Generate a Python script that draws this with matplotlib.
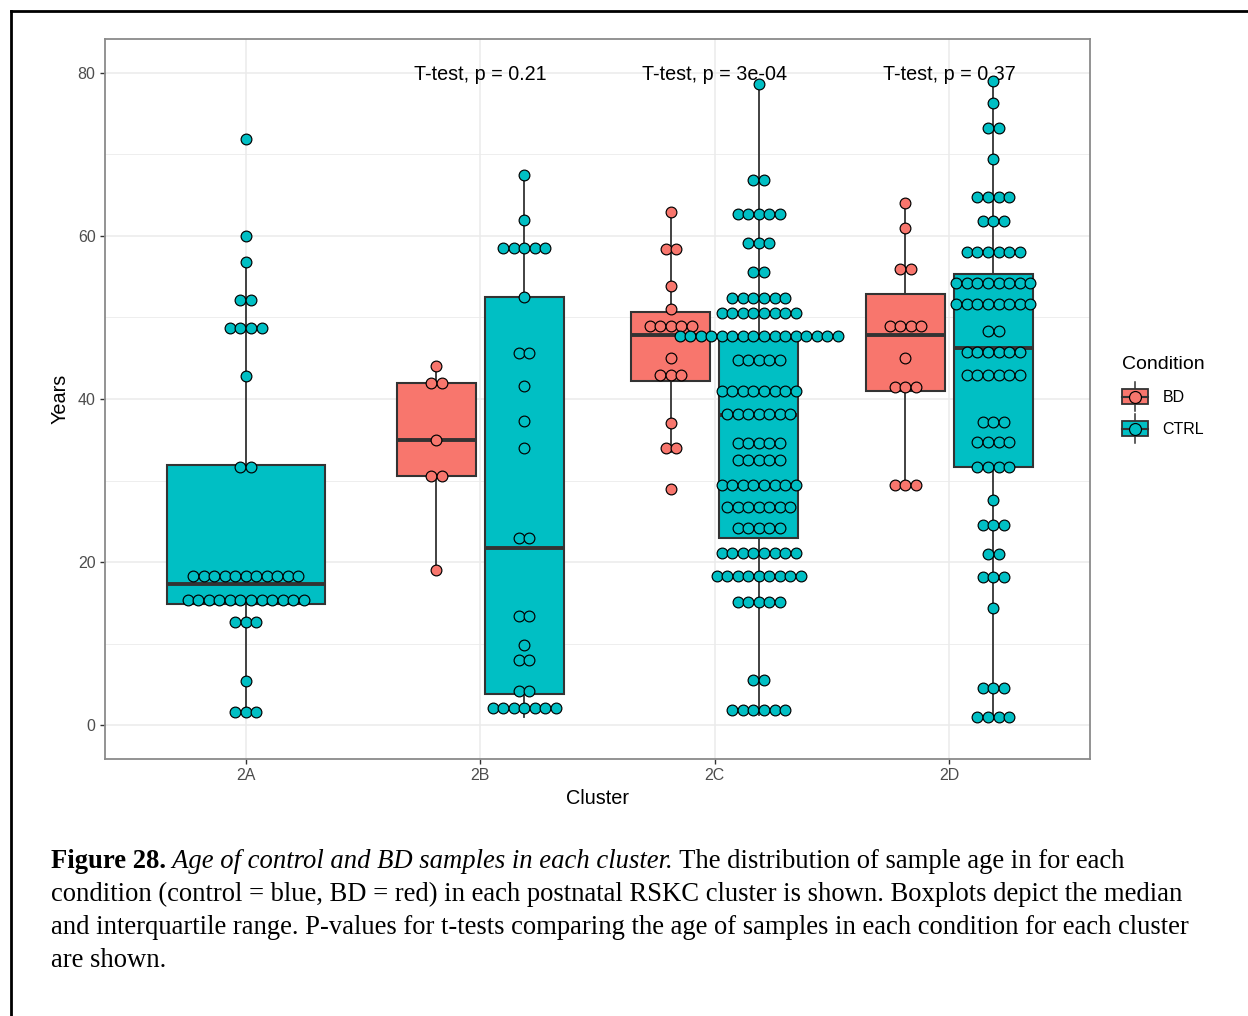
import matplotlib
matplotlib.use('Agg')
import matplotlib.pyplot as plt
from matplotlib.patches import Rectangle, Patch
from matplotlib.lines import Line2D
from matplotlib.legend_handler import HandlerBase

plt.rcParams['font.family'] = ['Liberation Sans', 'DejaVu Sans']

clusters = ['2A', '2B', '2C', '2D']
bd_color = '#F8766D'
ctrl_color = '#00BFC4'

# dot-plot bins: age (years) and how many samples fall in each bin
a_ctrl_age = [1.6, 5.4, 12.6, 15.3, 18.3, 31.6, 42.8, 48.7, 52.2, 56.8, 60.0, 71.9]
a_ctrl_n = [3, 1, 3, 12, 11, 2, 1, 4, 2, 1, 1, 1]

b_bd_age = [19.0, 30.5, 35.0, 42.0, 44.0]
b_bd_n = [1, 2, 1, 2, 1]
b_ctrl_age = [2.1, 4.2, 8.0, 9.8, 13.4, 23.0, 34.0, 37.3, 41.6, 45.7, 52.5, 58.5, 62.0, 67.5]
b_ctrl_n = [7, 2, 2, 1, 2, 2, 1, 1, 1, 2, 1, 5, 1, 1]

c_bd_age = [29.0, 34.0, 37.0, 43.0, 45.0, 49.0, 51.0, 53.9, 58.4, 63.0]
c_bd_n = [1, 2, 1, 3, 1, 5, 1, 1, 2, 1]
c_ctrl_age = [1.9, 5.5, 15.1, 18.3, 21.1, 24.2, 26.8, 29.5, 32.5, 34.6, 38.2, 41.0,
              44.8, 47.7, 50.5, 52.4, 55.6, 59.2, 62.7, 66.9, 78.7]
c_ctrl_n = [6, 2, 5, 9, 8, 5, 7, 8, 5, 5, 7, 8, 5, 16, 8, 6, 2, 3, 5, 2, 1]

d_bd_age = [29.5, 41.5, 45.0, 49.0, 56.0, 61.0, 64.0]
d_bd_n = [3, 3, 1, 4, 2, 1, 1]
d_ctrl_age = [1.0, 4.5, 14.3, 18.2, 21.0, 24.6, 27.6, 31.6, 34.7, 37.2, 42.9, 45.8,
              48.3, 51.6, 54.2, 58.0, 61.9, 64.8, 69.4, 73.25, 76.3, 79.0]
d_ctrl_n = [4, 3, 1, 3, 2, 3, 1, 4, 4, 3, 6, 6, 2, 8, 8, 6, 3, 4, 1, 2, 1, 1]

# box statistics (per cluster)
ctrl_q1 = [14.8, 3.8, 22.9, 31.7]
ctrl_med = [17.3, 21.7, 38.0, 46.2]
ctrl_q3 = [31.9, 52.5, 47.4, 55.3]
ctrl_lo = [1.6, 1.0, 1.2, 1.0]
ctrl_hi = [56.8, 67.5, 78.7, 79.0]

bd_clusters = ['2B', '2C', '2D']
bd_q1 = [30.5, 42.2, 41.0]
bd_med = [35.0, 47.9, 47.9]
bd_q3 = [42.0, 50.7, 52.9]
bd_lo = [19.0, 33.5, 29.5]
bd_hi = [44.0, 63.0, 64.0]

p_labels = ['T-test, p = 0.21', 'T-test, p = 3e-04', 'T-test, p = 0.37']
p_clusters = ['2B', '2C', '2D']

fig = plt.figure(figsize=(12.48, 10.16), dpi=100)
ax = fig.add_axes([105 / 1248, 1 - 759 / 1016, 985 / 1248, 720 / 1016])
ax.set_xlim(0.4, 4.6)
ax.set_ylim(-4.17, 84.17)

pos = {c: i + 1 for i, c in enumerate(clusters)}
dodge = 0.1875
box_w = 0.336
dot_dx = 0.0449

# grid
ax.set_yticks([0, 20, 40, 60, 80])
ax.set_yticks([10, 30, 50, 70], minor=True)
ax.set_xticks([1, 2, 3, 4])
ax.set_xticklabels(clusters)
ax.grid(True, which='major', color='#EBEBEB', lw=1.1)
ax.grid(True, which='minor', axis='y', color='#EBEBEB', lw=0.6)
ax.set_axisbelow(True)
ax.tick_params(axis='both', which='major', length=3.8, width=1, color='#333333',
               labelcolor='#4D4D4D', labelsize=11.5, pad=3)
ax.tick_params(axis='y', which='minor', length=0)
for s in ax.spines.values():
    s.set_color('#8A8A8A')
    s.set_linewidth(1.3)


def box_stats(q1, med, q3, lo, hi):
    return dict(q1=q1, med=med, q3=q3, whislo=lo, whishi=hi, fliers=[])


line_kw = dict(color='#333333', lw=1.3)


def draw_boxes(stats, positions, width, color):
    ax.bxp(stats, positions=positions, widths=width, patch_artist=True,
           showfliers=False, showcaps=False, manage_ticks=False,
           boxprops=dict(facecolor=color, edgecolor='#333333', lw=1.5),
           medianprops=dict(color='#333333', lw=2.8),
           whiskerprops=line_kw, zorder=2)


# CTRL boxes: 2A alone is centred and full width
ctrl_stats = [box_stats(*v) for v in zip(ctrl_q1, ctrl_med, ctrl_q3, ctrl_lo, ctrl_hi)]
draw_boxes(ctrl_stats[:1], [pos['2A']], 2 * box_w, ctrl_color)
draw_boxes(ctrl_stats[1:], [pos[c] + dodge for c in clusters[1:]], box_w, ctrl_color)

bd_stats = [box_stats(*v) for v in zip(bd_q1, bd_med, bd_q3, bd_lo, bd_hi)]
draw_boxes(bd_stats, [pos[c] - dodge for c in bd_clusters], box_w, bd_color)


def draw_dots(center, ages, counts, color):
    xs, ys = [], []
    for age, n in zip(ages, counts):
        for k in range(n):
            xs.append(center + (k - (n - 1) / 2) * dot_dx)
            ys.append(age)
    ax.scatter(xs, ys, s=60, c=color, edgecolors='black', linewidths=0.85, zorder=4)


draw_dots(pos['2A'], a_ctrl_age, a_ctrl_n, ctrl_color)
draw_dots(pos['2B'] - dodge, b_bd_age, b_bd_n, bd_color)
draw_dots(pos['2B'] + dodge, b_ctrl_age, b_ctrl_n, ctrl_color)
draw_dots(pos['2C'] - dodge, c_bd_age, c_bd_n, bd_color)
draw_dots(pos['2C'] + dodge, c_ctrl_age, c_ctrl_n, ctrl_color)
draw_dots(pos['2D'] - dodge, d_bd_age, d_bd_n, bd_color)
draw_dots(pos['2D'] + dodge, d_ctrl_age, d_ctrl_n, ctrl_color)

for c, lab in zip(p_clusters, p_labels):
    ax.text(pos[c], 79.8, lab, ha='center', va='center', fontsize=14.2, color='black', zorder=3)

ax.set_xlabel('Cluster', fontsize=14.3, labelpad=4)
ax.set_ylabel('Years', fontsize=14.3, labelpad=6)


class BoxDotHandler(HandlerBase):
    def create_artists(self, legend, orig_handle, xdescent, ydescent, width, height, fontsize, trans):
        color = orig_handle.get_facecolor()
        cx = width / 2 - xdescent
        cy = height / 2 - ydescent
        whisker = Line2D([cx, cx], [cy - height * 0.85, cy + height * 0.85], color='#333333', lw=1.1)
        box = Rectangle((-xdescent, cy - height * 0.45), width, height * 0.9, facecolor=color,
                        edgecolor='#333333', lw=1.3)
        med = Line2D([-xdescent, width - xdescent], [cy, cy], color='#333333', lw=1.5)
        dot = Line2D([cx], [cy], marker='o', ms=8.6, mfc=color, mec='black', mew=0.85)
        arts = [whisker, box, med, dot]
        for a in arts:
            a.set_transform(trans)
        return arts


h_bd = Patch(facecolor=bd_color)
h_ctrl = Patch(facecolor=ctrl_color)
leg = fig.legend([h_bd, h_ctrl], ['BD', 'CTRL'], title='Condition',
                 handler_map={Patch: BoxDotHandler()},
                 loc='upper left', bbox_to_anchor=(1114 / 1248, 1 - 348 / 1016),
                 frameon=False, fontsize=11.5, title_fontsize=14, borderpad=0,
                 handlelength=1.6, handleheight=1.25, labelspacing=0.95,
                 handletextpad=0.95, alignment='left')

# page frame
fig.add_artist(Line2D([11 / 1248, 1.0], [1 - 11 / 1016, 1 - 11 / 1016],
                      transform=fig.transFigure, color='black', lw=2))
fig.add_artist(Line2D([11 / 1248, 11 / 1248], [1 - 11 / 1016, 0.0],
                      transform=fig.transFigure, color='black', lw=2))

# caption below the chart
serif = ['Liberation Serif', 'DejaVu Serif']
cap_size = 19.15
renderer = fig.canvas.get_renderer()


def fig_y(py):
    return 1 - py / 1016


first_parts = [('Figure 28.', 'bold', 'normal'),
               (' Age of control and BD samples in each cluster.', 'normal', 'italic'),
               (' The distribution of sample age in for each', 'normal', 'normal')]
x = 51 / 1248
for txt, weight, style in first_parts:
    t = fig.text(x, fig_y(868), txt, fontsize=cap_size, family=serif, weight=weight,
                 style=style, ha='left', va='baseline')
    bb = t.get_window_extent(renderer)
    x = bb.x1 / 1248

cap_lines = ['condition (control = blue, BD = red) in each postnatal RSKC cluster is shown. Boxplots depict the median',
             'and interquartile range. P-values for t-tests comparing the age of samples in each condition for each cluster',
             'are shown.']
for i, line in enumerate(cap_lines):
    fig.text(51 / 1248, fig_y(901 + 33 * i), line, fontsize=cap_size, family=serif,
             ha='left', va='baseline')

fig.savefig('out.png', dpi=100)
